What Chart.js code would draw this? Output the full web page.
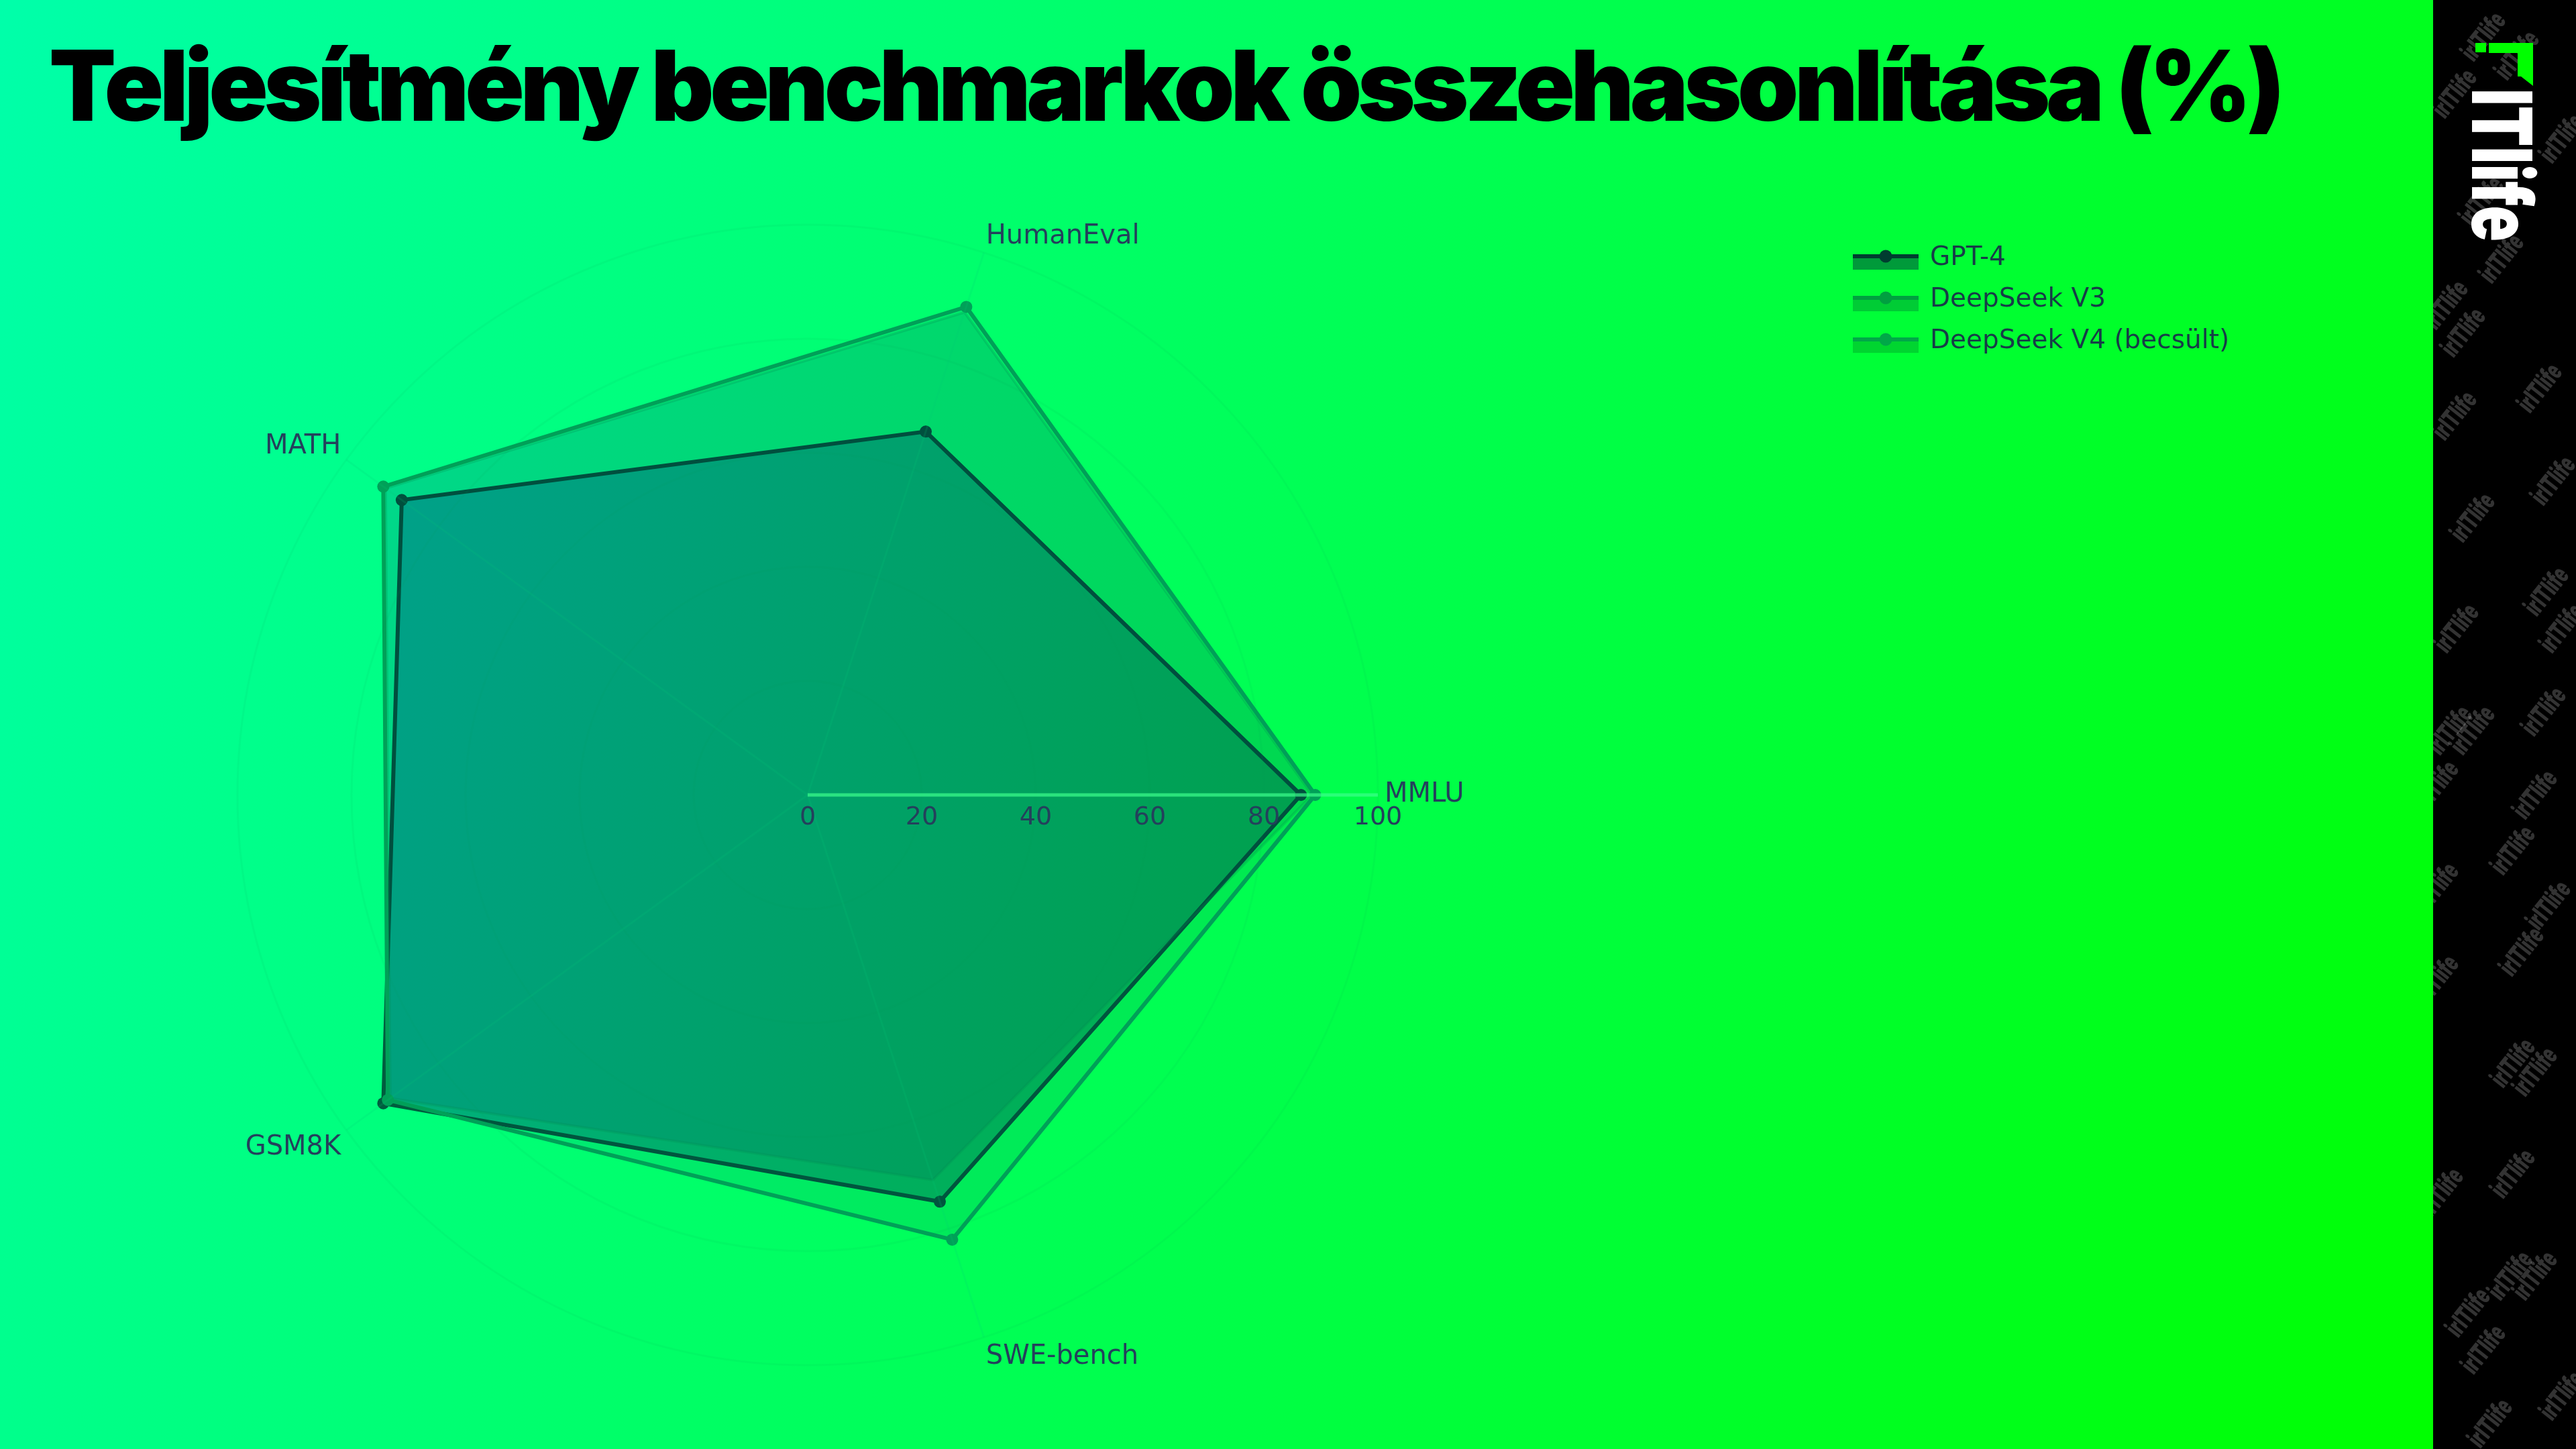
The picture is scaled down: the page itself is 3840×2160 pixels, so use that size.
<!DOCTYPE html>
<html lang="hu">
<head>
<meta charset="utf-8">
<title>Teljesítmény benchmarkok összehasonlítása (%)</title>
<script src="https://cdn.jsdelivr.net/npm/chart.js@4.4.1/dist/chart.umd.min.js"></script>
<style>
    html, body { margin: 0; padding: 0; width: 3840px; height: 2160px; overflow: hidden; background: #00ff55; }
    #chart { position: absolute; left: 0; top: 0; }
</style>
</head>
<body>
<canvas id="chart" width="3840" height="2160"></canvas>
<script>
// DATA BEGIN

const title = 'Teljesítmény benchmarkok összehasonlítása (%)';
const categories = ['MMLU', 'SWE-bench', 'GSM8K', 'MATH', 'HumanEval'];
const seriesNames = ['GPT-4', 'DeepSeek V3', 'DeepSeek V4 (becsült)'];
const gpt4 = [86.5, 75, 92, 88, 67];
const deepseekV3 = [88.5, 71, 90.5, 91.5, 89];
const deepseekV4 = [89, 82, 91, 92, 90];
const tickValues = [0, 20, 40, 60, 80, 100];

// DATA END

// STYLE

const textColor = '#24405c';
const legendTextColor = '#173c48';
const lineColors = ['#005c3e', 'rgba(0,150,80,0.25)', '#00a058'];
const fillColors = ['rgb(0,190,255)', 'rgb(0,235,255)', 'rgb(0,235,255)'];
const legendLine = ['#003d30', '#00a040', '#00a848'];
const legendPatch = ['#009a3a', '#00cc35', '#00d530'];

// watermark spots in the black side bar
const marks = [
    [3703, 55], [3753, 83], [3647, 455], [3673, 496], [3730, 386], [3660, 620], [3687, 772],
    [3787, 579], [3807, 717], [3820, 207], [3663, 937], [3653, 1089], [3687, 1089], [3797, 882],
    [3793, 1061], [3820, 937], [3633, 1171], [3747, 1268], [3780, 1185], [3760, 1419], [3633, 1461],
    [3747, 1585], [3780, 1598], [3640, 1778], [3747, 1750], [3680, 1957], [3743, 1902], [3780, 1902],
    [3703, 2012], [3713, 2122], [3820, 2081], [3633, 1323], [3700, 300], [3660, 140], [3800, 1350]
];

// DECOR PLUGIN BEGIN

const decor = {
    id: 'decor',
    beforeDraw(chart)
    {
        let ctx = chart.ctx;
        let g = ctx.createLinearGradient(0, 0, 3899, 1419);
        g.addColorStop(0, '#00ffaa');
        g.addColorStop(1, '#00ff00');
        ctx.save();
        ctx.fillStyle = g;
        ctx.fillRect(0, 0, chart.width, chart.height);
        ctx.restore();
    },
    // fills are multiplied on the gradient, lines and points are drawn normally
    beforeDatasetsDraw(chart) { chart.ctx.globalCompositeOperation = 'multiply'; },
    beforeDatasetDraw(chart) { chart.ctx.globalCompositeOperation = 'source-over'; },
    afterDatasetDraw(chart) { chart.ctx.globalCompositeOperation = 'multiply'; },
    afterDatasetsDraw(chart) { chart.ctx.globalCompositeOperation = 'source-over'; },
    afterDraw(chart)
    {
        let ctx = chart.ctx;
        let scale = chart.scales.r;
        ctx.save();

        // tick labels under the MMLU spoke
        ctx.font = '38px "DejaVu Sans"';
        ctx.fillStyle = textColor;
        ctx.textAlign = 'center';
        ctx.textBaseline = 'middle';
        tickValues.forEach(function (v)
        {
            let p = scale.getPointPositionForValue(0, v);
            ctx.fillText(String(v), p.x, p.y + 34);
        });

        // category labels
        ctx.font = '40px "DejaVu Sans"';
        categories.forEach(function (c, i)
        {
            let p = scale.getPointPosition(i, scale.drawingArea + 10);
            let dx = p.x - scale.xCenter;
            let dy = p.y - scale.yCenter;
            ctx.textAlign = Math.abs(dx) < 2 ? 'center' : (dx > 0 ? 'left' : 'right');
            ctx.textBaseline = Math.abs(dy) < 2 ? 'middle' : (dy < 0 ? 'bottom' : 'top');
            ctx.fillText(c, p.x, p.y + (dy < -2 ? 6 : 0));
        });

        // legend
        seriesNames.forEach(function (name, i)
        {
            let y = 382 + i * 62;
            ctx.fillStyle = legendPatch[i];
            ctx.fillRect(2762, y, 98, 20);
            ctx.fillStyle = legendLine[i];
            ctx.fillRect(2762, y - 3, 98, 6);
            ctx.beginPath();
            ctx.arc(2811, y, 9.5, 0, 2 * Math.PI);
            ctx.fill();
            ctx.fillStyle = legendTextColor;
            ctx.font = '39px "DejaVu Sans"';
            ctx.textAlign = 'left';
            ctx.textBaseline = 'middle';
            ctx.fillText(name, 2877, y + 3);
        });

        // title, stretched to the reference width
        ctx.font = '900 146px Inter';
        ctx.fillStyle = '#000';
        ctx.textAlign = 'left';
        ctx.textBaseline = 'alphabetic';
        let target = 3327;
        let w0 = ctx.measureText(title).width;
        if ('letterSpacing' in ctx)
        {
            ctx.letterSpacing = ((target - w0) / title.length).toFixed(2) + 'px';
            ctx.fillText(title, 73, 180);
            ctx.letterSpacing = '0px';
        } else {
            ctx.save();
            ctx.translate(73, 180);
            ctx.scale(target / w0, 1);
            ctx.fillText(title, 0, 0);
            ctx.restore();
        }

        // side bar
        ctx.fillStyle = '#000';
        ctx.fillRect(3627, 0, 213, 2160);
        ctx.save();
        ctx.beginPath();
        ctx.rect(3627, 0, 213, 2160);
        ctx.clip();
        ctx.font = '900 30px Inter';
        ctx.fillStyle = 'rgba(255,255,255,0.2)';
        ctx.textAlign = 'center';
        ctx.textBaseline = 'middle';
        marks.forEach(function (m)
        {
            ctx.save();
            ctx.translate(m[0], m[1]);
            ctx.rotate(-0.9);
            ctx.scale(0.8, 1.3);
            ctx.fillText('irITlife', 0, 0);
            ctx.restore();
        });
        ctx.restore();

        // logo
        ctx.fillStyle = '#00ff00';
        ctx.fillRect(3690, 64, 16, 14);
        ctx.fillRect(3710, 64, 66, 15);
        ctx.beginPath();
        ctx.moveTo(3753, 79);
        ctx.lineTo(3776, 79);
        ctx.lineTo(3776, 128);
        ctx.lineTo(3758, 114);
        ctx.lineTo(3753, 114);
        ctx.closePath();
        ctx.fill();

        ctx.save();
        ctx.translate(3685, 132);
        ctx.rotate(Math.PI / 2);
        ctx.font = '900 124px Inter';
        ctx.textAlign = 'left';
        ctx.textBaseline = 'alphabetic';
        let lw = ctx.measureText('ITlife').width;
        ctx.scale(228 / lw, 1);
        ctx.fillStyle = '#fff';
        ctx.fillText('ITlife', 0, 0);
        ctx.restore();

        ctx.restore();
    }
};

// DECOR PLUGIN END

// CHART BEGIN

let series = [gpt4, deepseekV3, deepseekV4];

new Chart(document.getElementById('chart'),
{
    type: 'radar',
    data: {
        labels: categories,
        datasets: series.map(function (values, i)
        {
            return {
                label: seriesNames[i],
                data: values,
                order: 3 - i,
                fill: true,
                backgroundColor: fillColors[i],
                borderColor: lineColors[i],
                borderWidth: i === 1 ? 4 : 6,
                pointRadius: i === 1 ? 0 : 9,
                pointBackgroundColor: lineColors[i],
                pointBorderWidth: 0,
                tension: 0
            };
        })
    },
    options: {
        responsive: false,
        devicePixelRatio: 1,
        animation: false,
        layout: { padding: { left: 354, top: 335, right: 1786, bottom: 125 } },
        plugins: {
            legend: { display: false },
            tooltip: { enabled: false },
            title: { display: false }
        },
        scales: {
            r: {
                min: 0,
                max: 100,
                startAngle: 90,
                ticks: { display: false, stepSize: 20 },
                pointLabels: { display: false },
                // grid on top of the filled areas
                grid: { z: 1, circular: true, color: 'rgba(0,150,90,0.07)', lineWidth: 3 },
                angleLines: {
                    color: function (c) { return c.index === 0 ? 'rgba(60,255,140,0.7)' : 'rgba(0,200,120,0.15)'; },
                    lineWidth: function (c) { return c.index === 0 ? 5 : 3; }
                }
            }
        }
    },
    plugins: [decor]
});

// CHART END
</script>
</body>
</html>
